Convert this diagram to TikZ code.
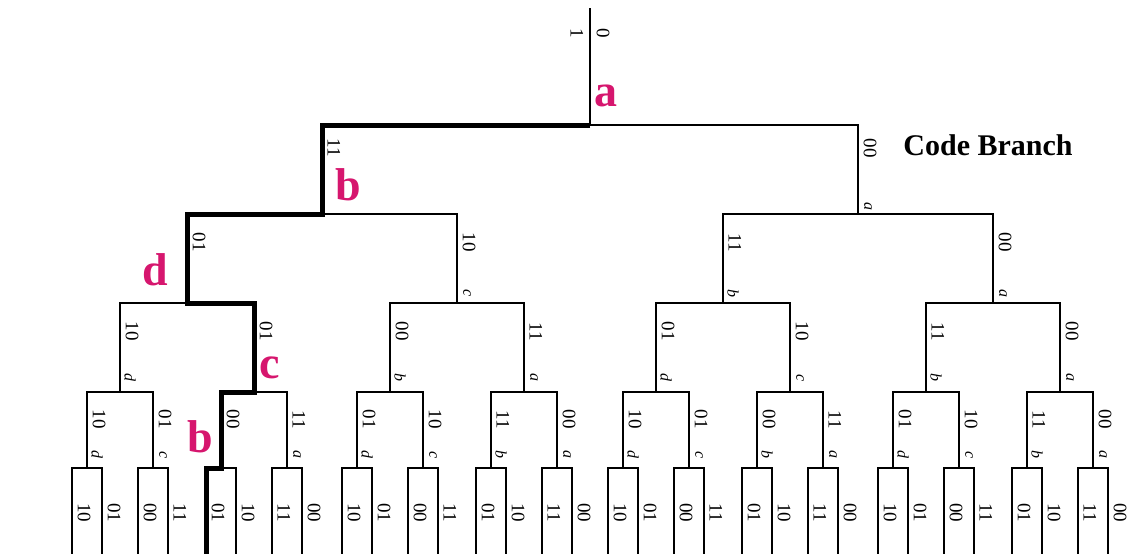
\documentclass[tikz,border=0pt]{standalone}
\usepackage{fontspec}
\setmainfont{Liberation Serif}
\definecolor{statepink}{RGB}{214,22,110}

% output bits and end state of a branch, by its place in the cycle
\newcommand{\branchbits}[1]{\ifcase#1 10\or 01\or 00\or 11\or 01\or 10\or 11\or 00\fi}
\newcommand{\branchstate}[1]{\ifcase#1 d\or c\or b\or a\fi}

\begin{document}
\begin{tikzpicture}[x=1pt,y=-1pt,
    branch/.style={line width=1.4pt},
    codepath/.style={line width=5pt},
    bits/.style={rotate=-90,inner sep=0pt,font=\fontsize{19}{19}\selectfont},
    state/.style={rotate=-90,inner sep=0pt,font=\fontsize{16}{16}\selectfont\itshape},
    pinklab/.style={inner sep=0pt,text=statepink,font=\fontsize{46}{46}\selectfont\bfseries}]

  \useasboundingbox (0,0) rectangle (1139,554);

  % Root and first branch point
  \coordinate (root) at (590,8);
  \coordinate (v0-0) at (590,125);
  \draw[branch] (root) -- (v0-0)
    node[xshift=13pt,bits,pos=.22]{0}
    node[xshift=-13pt,bits,pos=.22]{1};

  % Branches level by level: half width, drop, cycle shift,
  % label positions, branch whose state is left out
  \foreach \lev/\hw/\dy/\sh/\pb/\ps/\onpath in
      {1/268/89/6/.63/.96/0, 2/135/89/4/.66/.944/0, 3/67/89/0/.66/.92/1,
       4/33/76/0/.68/.914/2, 5/15/86/0/.76/0/-1}{
    \pgfmathtruncatemacro\km{\lev-1}
    \pgfmathtruncatemacro\nmax{2^\lev-1}
    \foreach \i in {0,...,\nmax}{
      \pgfmathtruncatemacro\up{div(\i,2)}
      \pgfmathtruncatemacro\side{2*mod(\i,2)-1}
      \pgfmathtruncatemacro\cyc{mod(\i+\sh,8)}
      \pgfmathtruncatemacro\st{mod(\cyc,4)}
      \path (v\km-\up) ++(\side*\hw,\dy) coordinate (v\lev-\i);
      \draw[branch] (v\km-\up) -| (v\lev-\i)
        node[xshift=12pt,bits,pos=\pb]{\branchbits{\cyc}};
      \ifnum\lev<5 \ifnum\i=\onpath\else
        \path (v\km-\up) -| (v\lev-\i)
          node[xshift=10pt,state,pos=\ps]{\branchstate{\st}};
      \fi\fi
    }
  }

  % Code branch traced through the tree
  \draw[codepath] (v0-0) -| (v1-0) -| (v2-0) -| (v3-1) -| (v4-2) -| (v5-4);

  % States passed on the code branch
  \node[pinklab] (sa) at (606,96) {a};
  \node[pinklab] (sb1) at (348,185) {b};
  \node[pinklab] (sd) at (155,270) {d};
  \node[pinklab] (sc) at (270,368) {c};
  \node[pinklab] (sb2) at (200,437) {b};

  \node[font=\fontsize{30}{30}\selectfont\bfseries] (codebranch) at (988,145) {Code Branch};

\end{tikzpicture}
\end{document}
